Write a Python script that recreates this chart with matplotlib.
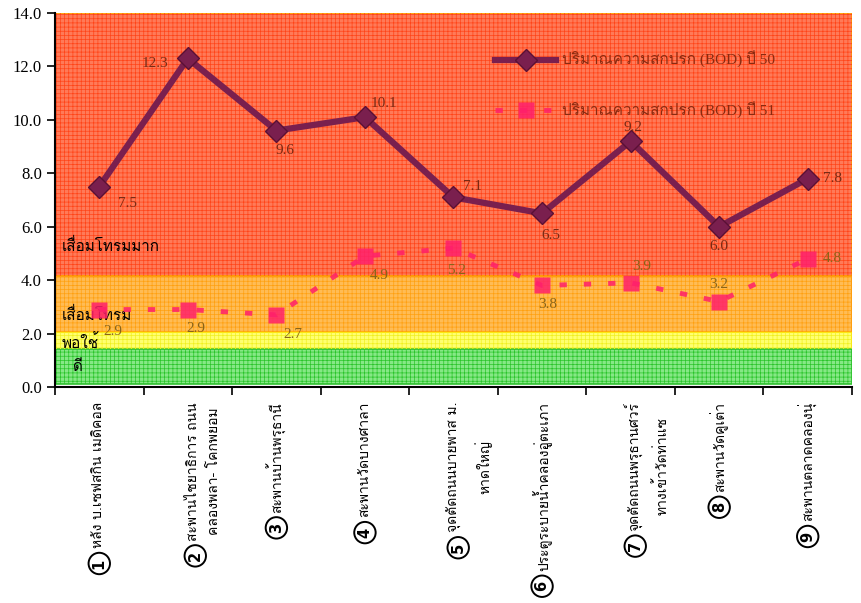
import matplotlib
matplotlib.use('Agg')
import matplotlib.pyplot as plt
from matplotlib import font_manager, ft2font
import numpy as np

# data
stations = ['หลัง บ.เซฟสกิน เมดิคอล',
            'สะพานไชยาธิการ ถนน\nคลองพลา- โคกพยอม',
            'สะพานบ้านพรุธานี',
            'สะพานวัดบางศาลา',
            'จุดตัดถนนบายพาส ม.\nหาดใหญ่',
            'ประตูระบายน้ำคลองอู่ตะเภา',
            'จุดตัดถนนพรุธานศวร์\nทางเข้าวัดท่าแซ',
            'สะพานวัดคูเต่า',
            'สะพานตลาดคลองนุ่']
station_no = ['1', '2', '3', '4', '5', '6', '7', '8', '9']
bod_50 = [7.5, 12.3, 9.6, 10.1, 7.1, 6.5, 9.2, 6.0, 7.8]
bod_51 = [2.9, 2.9, 2.7, 4.9, 5.2, 3.8, 3.9, 3.2, 4.8]
label_50 = 'ปริมาณความสกปรก (BOD) ปี 50'
label_51 = 'ปริมาณความสกปรก (BOD) ปี 51'

# quality bands: (bottom, top, name)
bands = [(4.15, 14.0, 'เสื่อมโทรมมาก'),
         (2.07, 4.15, 'เสื่อมโทรม'),
         (1.42, 2.07, 'พอใช้'),
         (0.1, 1.42, 'ดี')]


# find a font that has Thai glyphs
def thai_fonts():
    found = []
    for f in font_manager.fontManager.ttflist:
        try:
            ft = ft2font.FT2Font(f.fname)
            if 0x0E01 in ft.get_charmap() and f.name not in found:
                found.append(f.name)
        except Exception:
            pass
    return found

thai = thai_fonts()
serif = ['Liberation Serif'] + thai + ['DejaVu Sans']
sans = thai + ['DejaVu Sans']
plt.rcParams['font.family'] = serif
plt.rcParams['hatch.linewidth'] = 0.5

fig = plt.figure(figsize=(8.62, 6.03), dpi=100)
ax = fig.add_axes([0.0638, 0.3582, 0.9246, 0.6202])

x = np.arange(len(stations))
ax.set_xlim(-0.5, 8.5)
ax.set_ylim(0, 14)

face = ['#FF7A58', '#FFBC55', '#FFFF70', '#86E886']
grid = ['#FF4418', '#FFA010', '#F0F020', '#2AC42A']
edge = ['#FFB000', '#FF9900', '#FFE000', '#30C030']
for (lo, hi, name), fc, gc, ec in zip(bands, face, grid, edge):
    ax.axhspan(lo, hi, facecolor=fc, edgecolor=ec, linewidth=1.2, zorder=0)
    ax.axhspan(lo, hi, facecolor='none', edgecolor=gc, linewidth=0,
               hatch='++++', zorder=0.5)

band_y = [5.3, 2.7, 1.65, 0.75]
for (lo, hi, name), yy in zip(bands, band_y):
    ax.text(0.008 if name != 'ดี' else 0.022, yy, name, transform=ax.get_yaxis_transform(),
            fontsize=11, color='black', va='center', ha='left', zorder=3)

ax.plot(x, bod_50, color='#7A1F4E', lw=4.5, marker='D', ms=11,
        mfc='#7A1F4E', mec='#5A1035', label=label_50, zorder=4)
ax.plot(x, bod_51, color='#FF1F6B', lw=3.5, ls=(0, (1.5, 3.5)), marker='s', ms=12,
        mfc='#FF1F6B', mec='none', alpha=0.85, label=label_51, zorder=4)

# value labels (offsets in points)
off_50 = [(20, -12), (-24, -4), (6, -14), (14, 10), (14, 8), (6, -16), (2, 10), (0, -14), (18, 0)]
off_51 = [(10, -16), (6, -14), (12, -14), (10, -14), (2, -16), (4, -14), (8, 12), (0, 12), (18, 0)]
for xi, v, (dx, dy) in zip(x, bod_50, off_50):
    ax.annotate('%.1f' % v, (xi, v), xytext=(dx, dy), textcoords='offset points',
                ha='center', va='center', fontsize=11, color='#7A2A14', zorder=5)
for xi, v, (dx, dy) in zip(x, bod_51, off_51):
    ax.annotate('%.1f' % v, (xi, v), xytext=(dx, dy), textcoords='offset points',
                ha='center', va='center', fontsize=11, color='#8A6418', zorder=5)

leg = ax.legend(loc='upper left', bbox_to_anchor=(0.535, 0.935), frameon=False,
                labelspacing=2.2, handlelength=4, handletextpad=0.4, fontsize=11)
for t in leg.get_texts():
    t.set_color('#8A2A10')

# axes styling
ax.spines['top'].set_visible(False)
ax.spines['right'].set_visible(False)
ax.spines['left'].set_linewidth(1.5)
ax.spines['bottom'].set_linewidth(1.5)
ax.set_yticks(np.arange(0, 15, 2))
ax.set_yticklabels(['%.1f' % v for v in np.arange(0, 15, 2)])
ax.tick_params(axis='y', labelsize=12, length=6, width=1.2)
ax.set_xticks(np.arange(-0.5, 9, 1))
ax.set_xticklabels([])
ax.tick_params(axis='x', length=6, width=1.2)

# station labels rotated with circled numbers
for xi, name, no in zip(x, stations, station_no):
    two = '\n' in name
    t = ax.text(xi + (0.18 if two else 0.0), -0.04, name, transform=ax.get_xaxis_transform(),
                rotation=90, ha='center', va='top', multialignment='center',
                fontsize=10, family=sans, linespacing=1.8)
    ax.annotate(no, xy=(0.25 if two else 0.5, 0), xycoords=t, xytext=(0, -11),
                textcoords='offset points', ha='center', va='center', rotation=90,
                fontsize=10.5, fontweight='bold', family=['DejaVu Sans'],
                bbox=dict(boxstyle='circle,pad=0.22', fc='white', ec='black', lw=1.4))

fig.savefig('out.png', dpi=100)
